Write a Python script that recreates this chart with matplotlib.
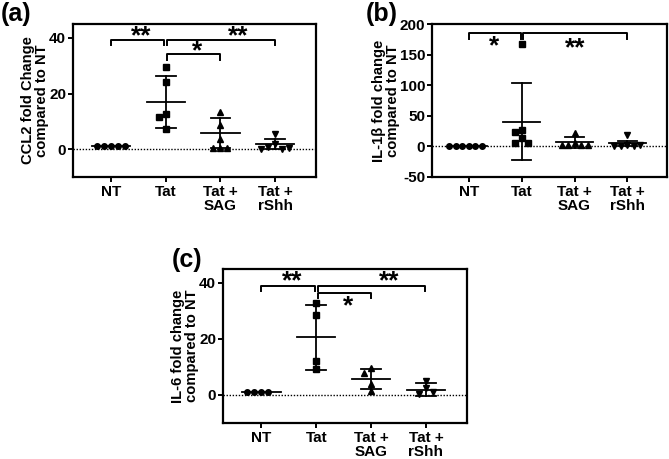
import matplotlib
matplotlib.use("Agg")
import matplotlib.pyplot as plt
import numpy as np

plt.rcParams['font.family'] = ['Liberation Sans', 'DejaVu Sans']
plt.rcParams['font.weight'] = 'bold'

categories = ["NT", "Tat", "Tat +\nSAG", "Tat +\nrShh"]

# (a) CCL2
ccl2_nt = [1, 1, 1, 1, 1]
ccl2_tat = [29.6, 24.2, 12.5, 11.6, 7.1]
ccl2_sag = [13.3, 8.6, 3.8, 0.6, 0.6, 0.6]
ccl2_rshh = [5.6, 2.0, 0.8, 0.2, 0.0, 0.3]
ccl2_mean = [1.0, 17.0, 5.8, 1.9]
ccl2_sd = [0.0, 9.4, 5.3, 1.8]

# (b) IL-1beta
il1b_nt = [1, 1, 1, 1, 1, 1]
il1b_tat = [167, 27, 24, 14.5, 6, 6]
il1b_sag = [22, 6, 1.5, 1.5, 1.5, 2.5]
il1b_rshh = [18, 3, 1, 0.5, 0.5, 2]
il1b_mean = [1.0, 40.5, 6.5, 4.8]
il1b_sd = [0.0, 62.5, 8.5, 4.0]

# (c) IL-6
il6_nt = [1, 1, 1, 1]
il6_tat = [32.7, 28.6, 12.1, 9.2]
il6_sag = [9.5, 8.0, 3.9, 1.5]
il6_rshh = [5.1, 2.4, 0.4, 1.2]
il6_mean = [1.0, 20.6, 5.7, 1.9]
il6_sd = [0.0, 11.7, 3.7, 2.3]

W, H = 669, 459
fig = plt.figure(figsize=(W / 100, H / 100), dpi=100)

markers = ['o', 's', '^', 'v']
msizes = [4.0, 4.2, 4.4, 4.4]


def box(l, t, r, b):
    return [l / W, 1 - b / H, (r - l) / W, (b - t) / H]


def swarm(vals, px_per_y, px_per_x, s):
    placed = []
    offs = []
    for v in vals:
        y = v * px_per_y
        cands = [0.0]
        for i in range(1, 10):
            cands += [-i * s, i * s]
        chosen = 0.0
        for c in cands:
            if all((c - px) ** 2 + (y - py) ** 2 >= (s * 0.95) ** 2 for px, py in placed):
                chosen = c
                break
        placed.append((chosen, y))
        offs.append(chosen / px_per_x)
    return offs


def panel(rect_px, groups, means, sds, ylim, yticks, ylabel, letter, letter_xy,
          brackets, stars, spacing=7.0):
    ax = fig.add_axes(box(*rect_px))
    xlim = (-0.7, 3.75)
    ax.set_xlim(*xlim)
    ax.set_ylim(*ylim)
    wpx = rect_px[2] - rect_px[0]
    hpx = rect_px[3] - rect_px[1]
    ppx = wpx / (xlim[1] - xlim[0])
    ppy = hpx / (ylim[1] - ylim[0])
    ax.axhline(0, color='black', lw=1.0, ls=(0, (1, 1.2)), zorder=1)
    for i, vals in enumerate(groups):
        offs = swarm(vals, ppy, ppx, spacing)
        ax.plot(np.array(offs) + i, vals, ls='none', marker=markers[i],
                ms=msizes[i], color='black', mec='black', zorder=3)
        m, sd = means[i], sds[i]
        ax.plot([i - 0.35, i + 0.35], [m, m], color='black', lw=1.3, zorder=4)
        if sd > 0:
            ax.plot([i, i], [m - sd, m + sd], color='black', lw=1.3, zorder=4)
            for yy in (m - sd, m + sd):
                ax.plot([i - 0.18, i + 0.18], [yy, yy], color='black', lw=1.3, zorder=4)
    for (x0, x1, y, drop) in brackets:
        ax.plot([x0, x0, x1, x1], [y - drop, y, y, y - drop], color='black',
                lw=1.4, zorder=5, clip_on=False)
    for (x, y, t) in stars:
        ax.annotate(t, xy=(x, y), xytext=(0, -0.40 * 19), textcoords='offset points',
                    ha='center', va='baseline', fontsize=19, fontweight='bold')
    ax.set_xticks(range(4))
    ax.set_xticklabels(categories, fontsize=11, fontweight='bold', linespacing=0.95)
    ax.set_yticks(yticks)
    ax.set_yticklabels([str(t) for t in yticks], fontsize=11, fontweight='bold')
    ax.tick_params(axis='both', direction='out', length=3.5, width=1.4, pad=1.5)
    ax.tick_params(axis='x', pad=2.5)
    for sp in ax.spines.values():
        sp.set_linewidth(1.6)
    ax.set_ylabel(ylabel, fontsize=10.6, fontweight='bold', linespacing=1.0, labelpad=0)
    fig.text(letter_xy[0] / W, 1 - letter_xy[1] / H, letter, fontsize=18,
             fontweight='bold', ha='left', va='top')
    return ax


panel((73, 24, 316, 177), [ccl2_nt, ccl2_tat, ccl2_sag, ccl2_rshh], ccl2_mean, ccl2_sd,
      (-10, 45), [0, 20, 40], "CCL2 fold Change\ncompared to NT", "(a)", (1, 2),
      brackets=[(0.0, 0.97, 39.4, 2.0), (1.03, 3.0, 39.4, 2.0), (1.03, 2.0, 34.2, 2.0)],
      stars=[(0.55, 42.0, "**"), (1.58, 36.3, "*"), (2.33, 42.0, "**")])

panel((432, 24, 667, 177), [il1b_nt, il1b_tat, il1b_sag, il1b_rshh], il1b_mean, il1b_sd,
      (-50, 200), [-50, 0, 50, 100, 150, 200], "IL-1\u03b2 fold change\ncompared to NT", "(b)",
      (366, 2),
      brackets=[(0.0, 0.98, 185, 10), (1.02, 3.0, 185, 10)],
      stars=[(0.48, 169, "*"), (2.02, 166, "**")], spacing=6.5)

panel((223, 269, 467, 423), [il6_nt, il6_tat, il6_sag, il6_rshh], il6_mean, il6_sd,
      (-10, 45), [0, 20, 40], "IL-6 fold change\ncompared to NT", "(c)", (172, 248),
      brackets=[(0.0, 0.97, 39.0, 1.8), (1.04, 2.98, 39.0, 1.8), (1.04, 2.0, 36.4, 1.8)],
      stars=[(0.57, 42.0, "**"), (1.58, 33.0, "*"), (2.34, 42.0, "**")])

fig.savefig("out.png", dpi=100)
